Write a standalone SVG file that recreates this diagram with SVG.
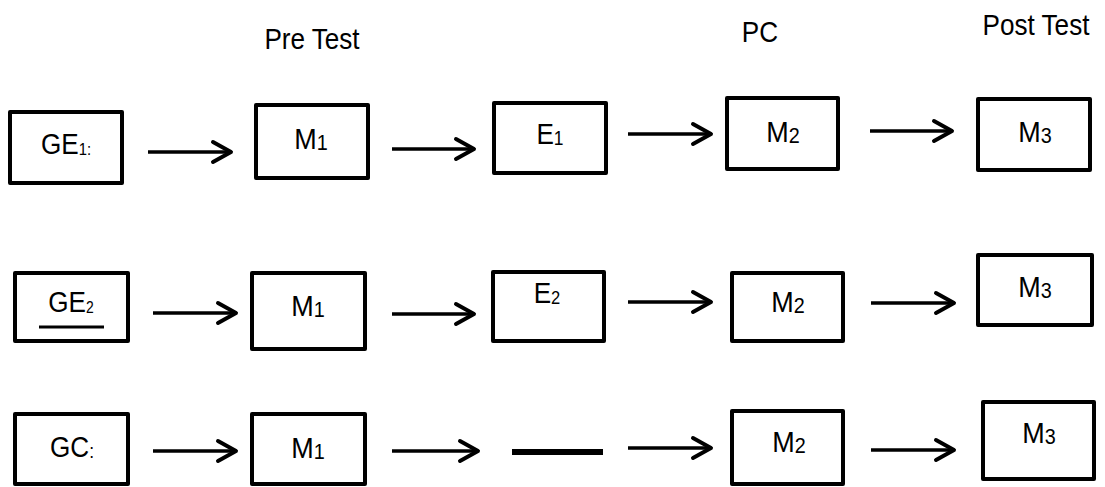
<svg xmlns="http://www.w3.org/2000/svg" width="1105" height="487" viewBox="0 0 1105 487">
<style>
.box{fill:#fff;stroke:#000;stroke-width:4;stroke-linejoin:round}
.t{font-family:"Liberation Sans",Arial,sans-serif;font-size:30px;fill:#000;text-anchor:middle}
.h{font-family:"Liberation Sans",Arial,sans-serif;font-size:30px;fill:#000;text-anchor:middle}
.ln{stroke:#000;stroke-width:3.5;fill:none}
.hd{stroke:#000;stroke-width:4;fill:none;stroke-linecap:round;stroke-linejoin:round}
</style>
<rect width="1105" height="487" fill="#fff"/>
<g id="headers">
<text class="h" transform="translate(312,49) scale(0.87,1)">Pre Test</text>
<text class="h" transform="translate(760,42) scale(0.87,1)">PC</text>
<text class="h" transform="translate(1036,35) scale(0.87,1)">Post Test</text>
</g>
<g id="GE1"><rect class="box" x="10" y="112" width="112" height="71"/><text class="t" transform="translate(66,154) scale(0.87,1)">GE<tspan font-size="17" dy="1">1:</tspan></text></g>
<g id="M1a"><rect class="box" x="256" y="105" width="112" height="73"/><text class="t" transform="translate(311,149) scale(0.9,1)">M<tspan font-size="22" dy="1">1</tspan></text></g>
<g id="E1"><rect class="box" x="494" y="103" width="112" height="70"/><text class="t" transform="translate(550,144) scale(0.87,1)">E<tspan font-size="20" dy="1">1</tspan></text></g>
<g id="M2a"><rect class="box" x="727" y="98" width="111" height="71"/><text class="t" transform="translate(783,142) scale(0.9,1)">M<tspan font-size="22" dy="1">2</tspan></text></g>
<g id="M3a"><rect class="box" x="978" y="99" width="112" height="71"/><text class="t" transform="translate(1035,142) scale(0.9,1)">M<tspan font-size="22" dy="1">3</tspan></text></g>

<g id="GE2"><rect class="box" x="15" y="273" width="113" height="68"/><text class="t" transform="translate(71,312) scale(0.87,1)">GE<tspan font-size="16" dy="1">2</tspan></text><line x1="39" y1="327" x2="104" y2="327" stroke="#000" stroke-width="3"/></g>
<g id="M1b"><rect class="box" x="252" y="273" width="113" height="76"/><text class="t" transform="translate(308,316) scale(0.9,1)">M<tspan font-size="22" dy="1">1</tspan></text></g>
<g id="E2"><rect class="box" x="493" y="272" width="111" height="69"/><text class="t" transform="translate(547,303) scale(0.87,1)">E<tspan font-size="19" dy="1">2</tspan></text></g>
<g id="M2b"><rect class="box" x="732" y="273" width="111" height="68"/><text class="t" transform="translate(788,312) scale(0.9,1)">M<tspan font-size="22" dy="1">2</tspan></text></g>
<g id="M3b"><rect class="box" x="978" y="255" width="114" height="70"/><text class="t" transform="translate(1035,297) scale(0.9,1)">M<tspan font-size="22" dy="1">3</tspan></text></g>

<g id="GC"><rect class="box" x="15" y="414" width="113" height="70"/><text class="t" transform="translate(72,457) scale(0.87,1)">GC<tspan font-size="20" dy="1">:</tspan></text></g>
<g id="M1c"><rect class="box" x="252" y="414" width="113" height="70"/><text class="t" transform="translate(308,458) scale(0.9,1)">M<tspan font-size="22" dy="1">1</tspan></text></g>
<g id="blank"><line x1="512" y1="452" x2="603" y2="452" stroke="#000" stroke-width="6"/></g>
<g id="M2c"><rect class="box" x="732" y="411" width="111" height="73"/><text class="t" transform="translate(789,452) scale(0.9,1)">M<tspan font-size="22" dy="1">2</tspan></text></g>
<g id="M3c"><rect class="box" x="983" y="402" width="111" height="77"/><text class="t" transform="translate(1039,443) scale(0.9,1)">M<tspan font-size="22" dy="1">3</tspan></text></g>

<g id="connectors">
<path class="ln" d="M148 152H230"/><path class="hd" d="M213 142L231 152L213 162"/>
<path class="ln" d="M392 149H473"/><path class="hd" d="M456 139L474 149L456 159"/>
<path class="ln" d="M628 134H710"/><path class="hd" d="M693 124L711 134L693 144"/>
<path class="ln" d="M870 131H951"/><path class="hd" d="M934 121L952 131L934 141"/>

<path class="ln" d="M153 313H235"/><path class="hd" d="M218 303L236 313L218 323"/>
<path class="ln" d="M392 314H473"/><path class="hd" d="M456 304L474 314L456 324"/>
<path class="ln" d="M628 302H710"/><path class="hd" d="M693 292L711 302L693 312"/>
<path class="ln" d="M871 303H953"/><path class="hd" d="M936 293L954 303L936 313"/>

<path class="ln" d="M153 451H235"/><path class="hd" d="M218 441L236 451L218 461"/>
<path class="ln" d="M392 451H477"/><path class="hd" d="M460 441L478 451L460 461"/>
<path class="ln" d="M628 448H710"/><path class="hd" d="M693 438L711 448L693 458"/>
<path class="ln" d="M871 450H953"/><path class="hd" d="M936 440L954 450L936 460"/>
</g>
</svg>
